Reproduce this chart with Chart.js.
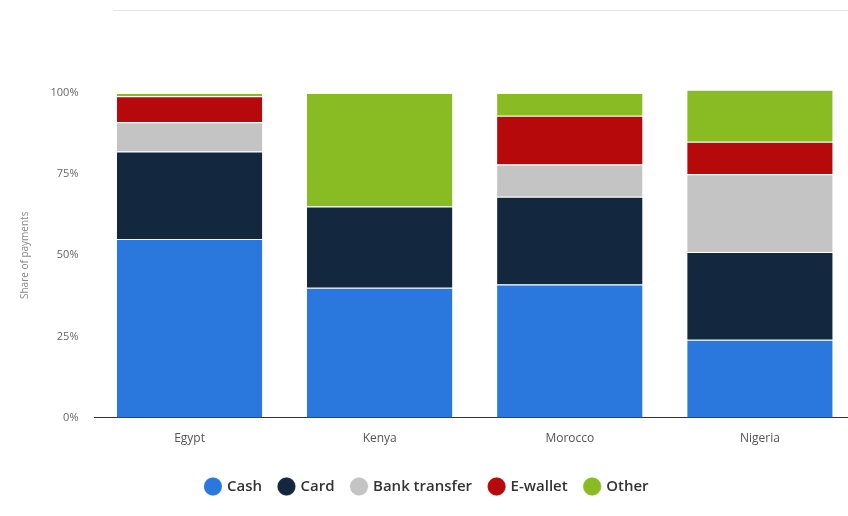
<!DOCTYPE html>
<html lang="en">
<head>
  <meta charset="UTF-8" />
  <title>Share of payments by method</title>
  <script src="https://cdn.jsdelivr.net/npm/chart.js"></script>
  <style>
    html, body { margin: 0; padding: 0; background: #fff; overflow: hidden; }
    .wrap { position: relative; width: 858px; height: 516px; }
    .topline { position: absolute; left: 113px; right: 0; top: 10px; border-top: 1px solid #e6e6e6; }
  </style>
</head>
<body>
  <div class="wrap">
    <div class="topline"></div>
    <canvas id="grafico" width="858" height="516"></canvas>
  </div>

  <script>
    const countries = ['Egypt', 'Kenya', 'Morocco', 'Nigeria'];
    const cash     = [55, 40, 41, 24];
    const card     = [27, 25, 27, 27];
    const bank     = [9, 0, 10, 24];
    const ewallet  = [8, 0, 15, 10];
    const other    = [1, 35, 7, 16];
    const yTicks   = [0, 25, 50, 75, 100];

    const serie = (label, data, color) => ({
      label, data,
      backgroundColor: color,
      borderColor: '#ffffff',
      borderWidth: { top: 1, bottom: 0, left: 0, right: 0 },
      borderSkipped: false,
      clip: false
    });

    new Chart(document.getElementById('grafico'), {
      type: 'bar',
      data: {
        labels: countries,
        datasets: [
          serie('Cash', cash, '#2a78de'),
          serie('Card', card, '#13283f'),
          serie('Bank transfer', bank, '#c4c4c4'),
          serie('E-wallet', ewallet, '#b5090b'),
          serie('Other', other, '#88bc22')
        ]
      },
      options: {
        responsive: false,
        animation: false,
        barPercentage: 0.765,
        categoryPercentage: 1,
        layout: { padding: { top: 93, right: 3, left: 0, bottom: 12 } },
        scales: {
          x: {
            stacked: true,
            afterFit: s => { s.height += 9; },
            grid: { display: false },
            border: { display: true, color: '#333', width: 1 },
            ticks: { color: '#555', font: { family: 'Open Sans', size: 12 }, padding: 6 }
          },
          y: {
            stacked: true,
            min: 0, max: 100,
            afterFit: s => { s.width = 94.5; },
            afterBuildTicks: s => { s.ticks = yTicks.map(v => ({ value: v })); },
            grid: { display: false, drawTicks: false },
            border: { display: false },
            ticks: {
              color: '#666', padding: 16,
              font: { family: 'Open Sans', size: 11 },
              callback: v => v + '%'
            },
            title: {
              display: true, text: 'Share of payments',
              color: '#888', font: { family: 'Open Sans', size: 10 },
              padding: { top: 19, bottom: 0 }
            }
          }
        },
        plugins: {
          legend: {
            position: 'bottom',
            labels: {
              usePointStyle: true, pointStyle: 'circle', boxWidth: 13, boxHeight: 13,
              padding: 18, color: '#333',
              font: { family: 'Open Sans', size: 15, weight: '600' }
            }
          },
          tooltip: { enabled: false }
        }
      }
    });
  </script>
</body>
</html>
